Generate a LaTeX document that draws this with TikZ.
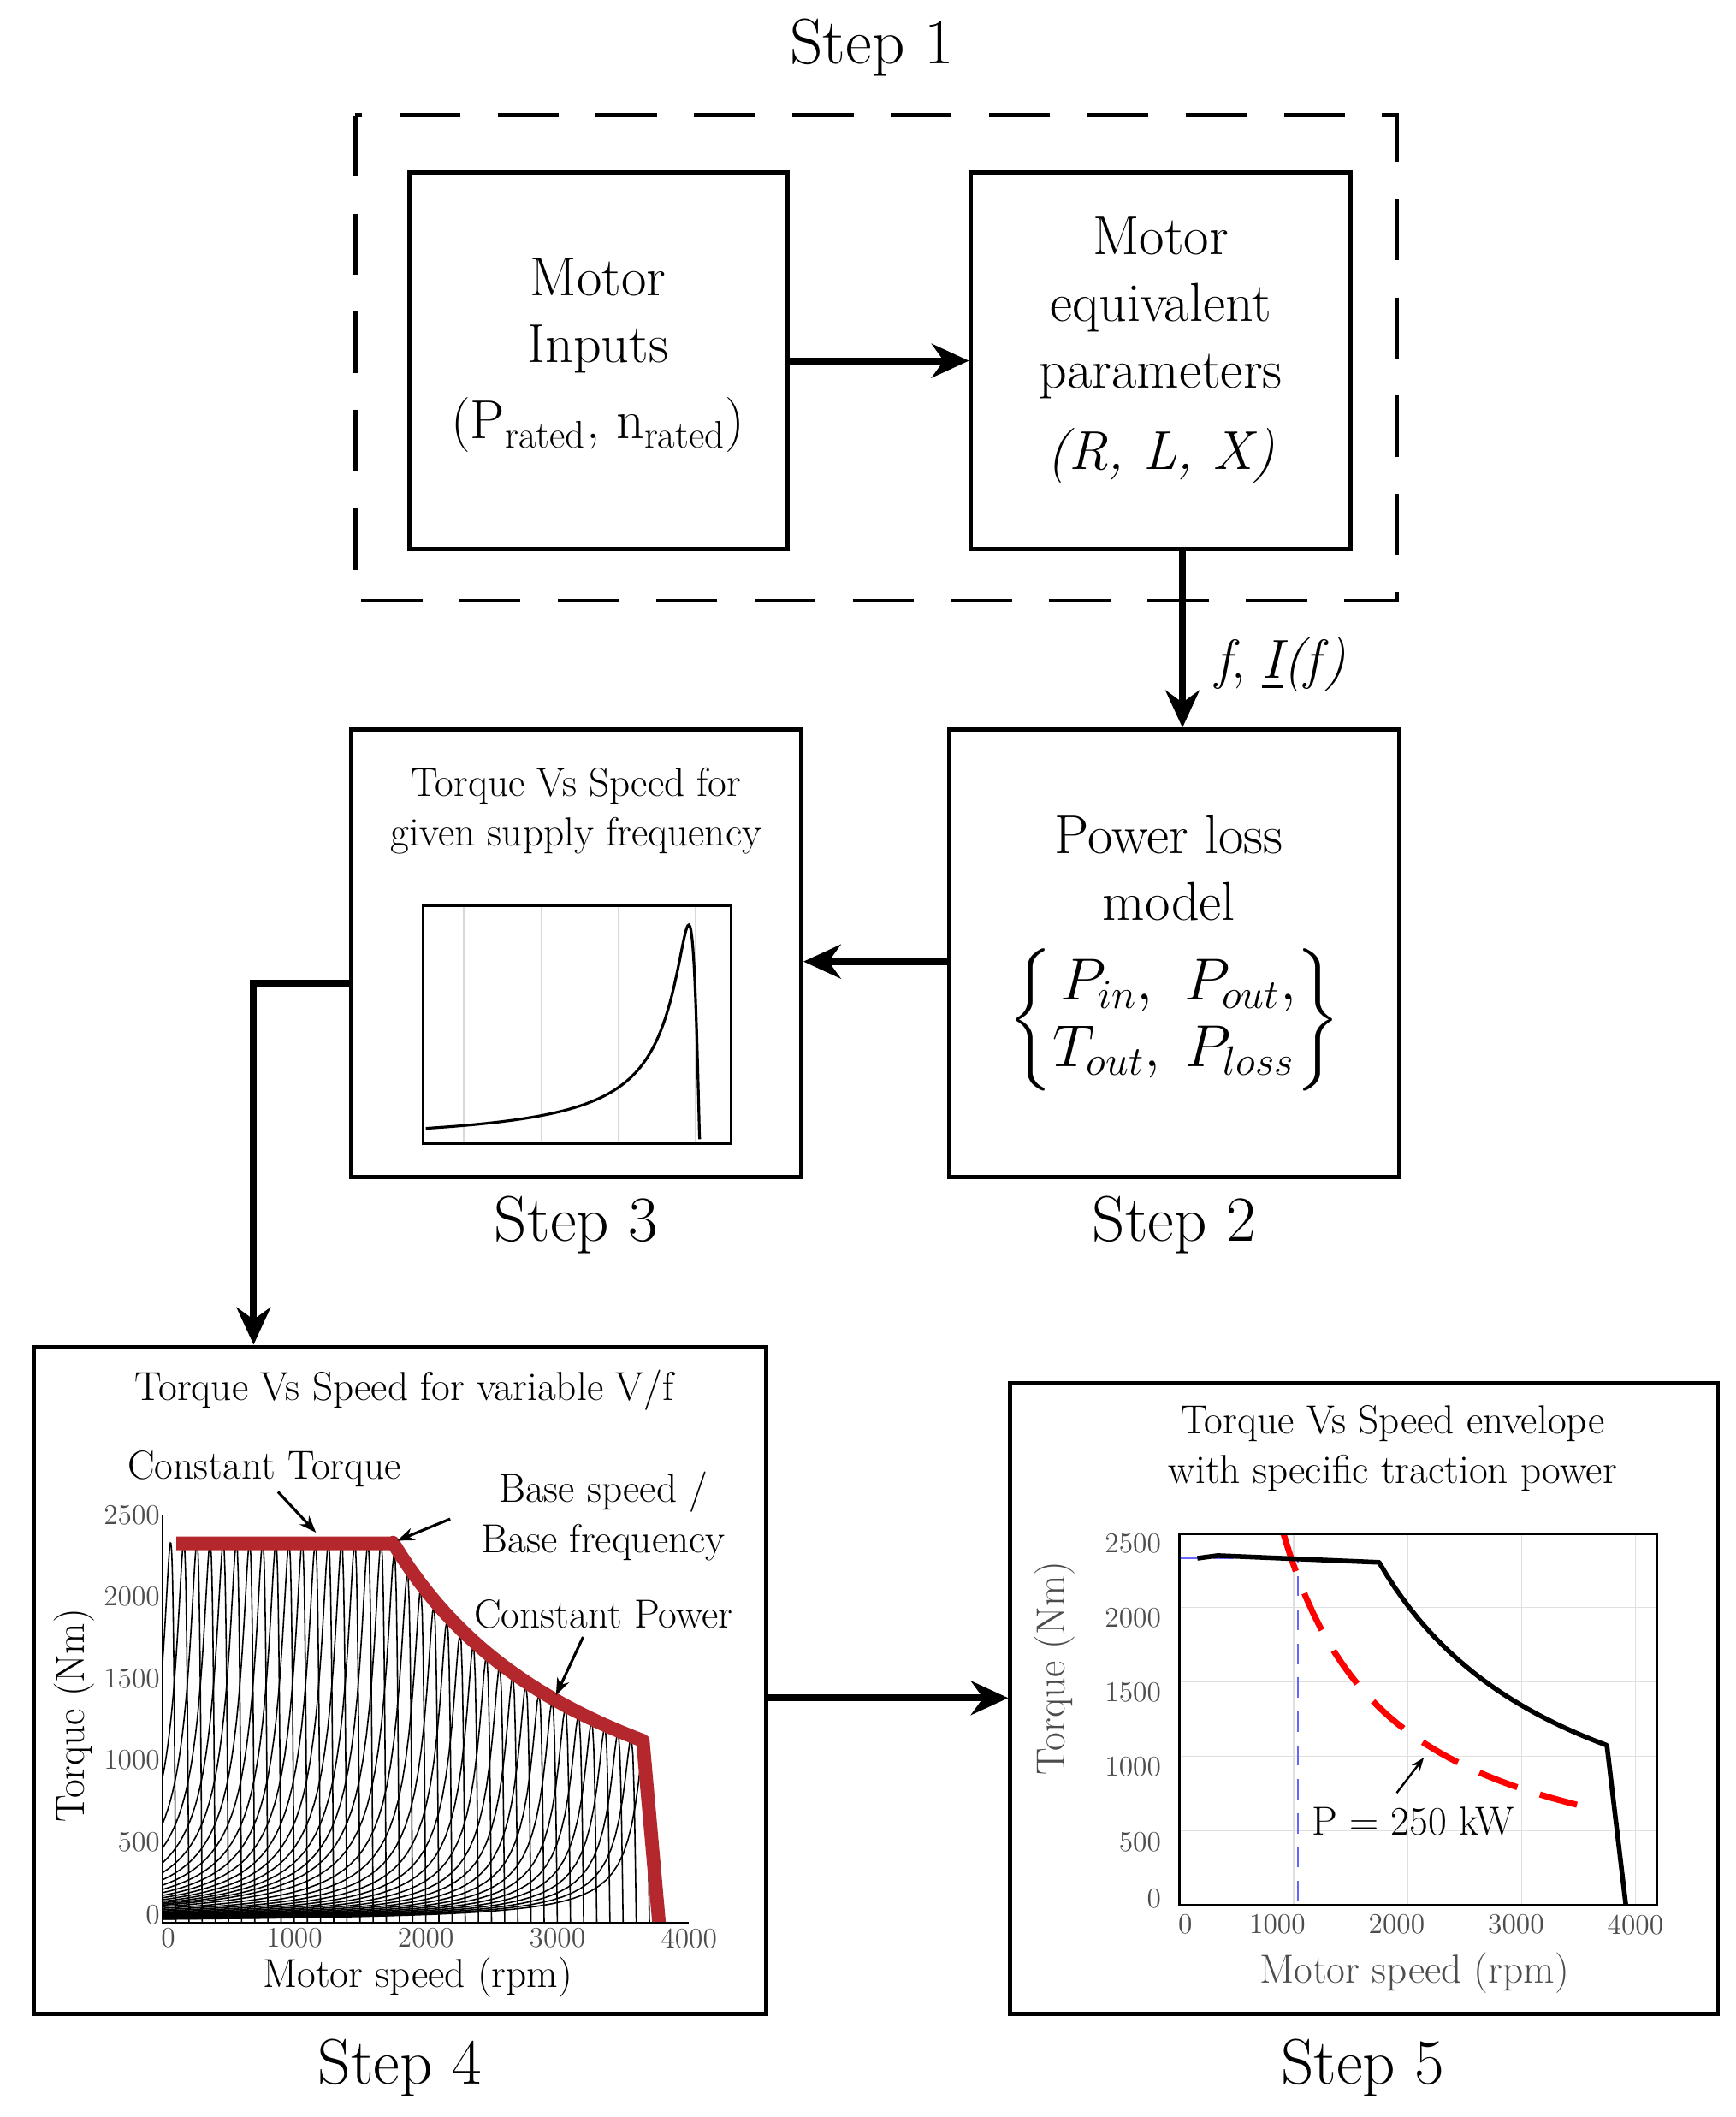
\documentclass[tikz,border=0pt]{standalone}
\usetikzlibrary{arrows.meta}
\usepackage{amsmath}
\newcommand\mylossbrace{$\left\{\begin{matrix}P_{in}, & P_{out},\\ T_{out}, & P_{loss}\end{matrix}\right\}$}
\begin{document}
\begin{tikzpicture}[x=0.02cm,y=-0.02cm,
  box/.style={draw,line width=0.06cm,inner sep=0pt},
  conn/.style={line width=0.1cm,-{Stealth[length=0.55cm,width=0.5cm]}},
  big/.style={font=\fontsize{27}{32}\selectfont},
  mid/.style={font=\fontsize{23}{28}\selectfont,align=center},
  small/.style={font=\fontsize{17}{21}\selectfont,align=center},
  tick/.style={font=\fontsize{12}{14}\selectfont,text=black!70},
  envred/.style={color={rgb,255:red,180;green,40;blue,45},line width=0.2cm,line join=round}]
\useasboundingbox (0,0) rectangle (1280,1561);
% Step 1
\node[big] (s1) at (643,35) {Step 1};
\draw[line width=0.06cm,dash pattern=on 0.9cm off 0.55cm] (262,85) rectangle (1030,443);
\node[box,minimum width=5.58cm,minimum height=5.56cm] (A) at (441.5,266) {};
\node[mid] at (441,262) {Motor\\Inputs\\[4pt](P\textsubscript{rated}, n\textsubscript{rated})};
\node[box,minimum width=5.6cm,minimum height=5.56cm] (B) at (856,266) {};
\node[mid] at (856,258) {Motor\\equivalent\\parameters\\[6pt]\textit{(R, L, X)}};
\draw[conn] (A.east) -- (B.west);
% Step 2
\node[box,minimum width=6.64cm,minimum height=6.6cm] (P) at (866,703) {};
\draw[conn] (B.south -| 872,0) -- (P.north -| 872,0);
\node[mid,anchor=west] at (890,490) {\textit{f}, \textit{\underline{I}(f)}};
\node[mid] at (862,640) {Power loss\\model};
\node[mid] at (866,752) {\mylossbrace};
\node[big] (s2) at (866,903) {Step 2};
% Step 3
\node[box,minimum width=6.64cm,minimum height=6.6cm] (T3) at (425,703) {};
\node[small] at (425,598) {Torque Vs Speed for\\given supply frequency};
\draw[step=57,gray!30,thin] (312,668) grid (539,843);
\draw[line width=0.04cm] (312,668) rectangle (539,843);
\draw[line width=0.04cm] plot[domain=1:0.1,samples=80] ({314+202*(1-\x^3)},{845-163*2/(\x^3/0.04+0.04/\x^3)}) -- (516,840);
\node[big] (s3) at (425,903) {Step 3};
\draw[conn] (P.west |- 0,709) -- (T3.east |- 0,709);
% Step 4
\node[box,minimum width=10.8cm,minimum height=9.84cm] (F4) at (295,1239) {};
\draw[conn] (T3.west |- 0,725) -- (187,725) -- (F4.north -| 187,0);
\node[small] at (298,1025) {Torque Vs Speed for variable V/f};
\foreach \ns in {100,200,...,3700}{
  \pgfmathsetmacro\Tm{2330*min(1,1750/\ns)}
  \pgfmathsetmacro\A{0.1204*2*\Tm}
  \pgfmathsetmacro\sm{40/\ns}
  \pgfmathsetmacro\W{0.097*\ns}
  \draw[line width=0.02cm] plot[domain=1:0.1,samples=40] ({120+\W*(1-\x^3)},{1418-\A/(\x^3/\sm+\sm/\x^3)}) -- ({120+\W},1418);
}
\draw[envred] (130,1138) -- (290,1138) -- plot[domain=1750:3650,samples=30] ({120+0.097*\x},{1418-0.1204*2330*(1.75/(\x/1000))}) -- (486,1418);
\draw[line width=0.03cm] (120,1117) -- (120,1418) -- (508,1418);
\foreach \v/\y in {2500/1117,2000/1177,1500/1238,1000/1298,500/1358,0/1412}
  \node[tick,anchor=east,inner sep=1pt] at (120,\y) {\v};
\foreach \v/\x in {0/124,1000/217,2000/314,3000/411,4000/508}
  \node[tick,anchor=north,inner sep=2pt] at (\x,1418) {\v};
\node[small,rotate=90] at (55,1265) {Torque (Nm)};
\node[small] at (308,1458) {Motor speed (rpm)};
\node[small] (ct) at (195,1083) {Constant Torque};
\node[small] (bs) at (445,1118) {Base speed /\\Base frequency};
\node[small] (cp) at (445,1190) {Constant Power};
\coordinate (ctp) at (233,1130); \coordinate (bsp) at (293,1136); \coordinate (cpp) at (410,1250);
\draw[line width=0.04cm,-{Stealth[length=0.25cm]}] (205,1100) -- (ctp);
\draw[line width=0.04cm,-{Stealth[length=0.25cm]}] (332,1120) -- (bsp);
\draw[line width=0.04cm,-{Stealth[length=0.25cm]}] (430,1207) -- (cpp);
\node[big] (s4) at (295,1525) {Step 4};
% Step 5
\node[box,minimum width=10.44cm,minimum height=9.3cm] (F5) at (1006,1252.5) {};
\draw[conn] (F4.east |- 0,1252) -- (F5.west |- 0,1252);
\node[small] at (1027,1068) {Torque Vs Speed envelope\\with specific traction power};
\begin{scope}
\clip (870,1131) rectangle (1222,1405);
\foreach \x in {954,1038,1122,1206} \draw[gray!25,thin] (\x,1131) -- (\x,1405);
\foreach \y in {1130,1185,1240,1295,1350} \draw[gray!25,thin] (870,\y) -- (1222,\y);
\draw[blue!60,line width=0.03cm,dash pattern=on 0.3cm off 0.2cm] (870,1149) -- (957,1149) -- (957,1405);
\draw[red,line width=0.09cm,dash pattern=on 0.6cm off 0.35cm] plot[domain=955:3535,samples=40] ({866+0.084*\x},{1405-0.11*2387.324/(\x/1000)});
\draw[line width=0.07cm,line join=round] (883,1149) -- (898,1147) -- (1017,1152) -- plot[domain=1750:3750,samples=30] ({870+0.084*\x},{1405-0.11*2300*(1.75/(\x/1000))}) -- (1199,1405);
\end{scope}
\draw[line width=0.04cm] (870,1131) rectangle (1222,1405);
\foreach \v/\y in {2500/1138,2000/1193,1500/1248,1000/1303,500/1358,0/1400}
  \node[tick,anchor=east,inner sep=2pt] at (860,\y) {\v};
\foreach \v/\x in {0/874,1000/942,2000/1030,3000/1118,4000/1206}
  \node[tick,anchor=north,inner sep=2pt] at (\x,1408) {\v};
\node[small,rotate=90,text=black!70] at (778,1230) {Torque (Nm)};
\node[small,text=black!70] at (1043,1455) {Motor speed (rpm)};
\node[small] (pl) at (1042,1343) {P = 250 kW};
\coordinate (plp) at (1050,1296);
\draw[line width=0.03cm,-{Stealth[length=0.2cm]}] (1030,1322) -- (plp);
\node[big] (s5) at (1005,1525) {Step 5};
\end{tikzpicture}
\end{document}
